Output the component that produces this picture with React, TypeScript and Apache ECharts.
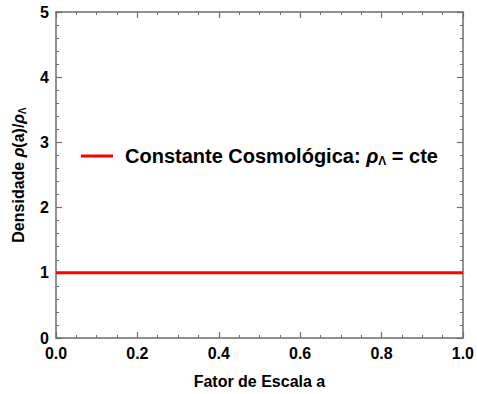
import React, { useEffect, useRef } from "react";
import * as echarts from "echarts";

const xRange = [0, 1];
const yRange = [0, 5];
const seriesName = "Constante Cosmológica: ρΛ = cte";
const lineData: [number, number][] = [
  [0, 1],
  [1, 1],
];

const FONT = "Liberation Sans";
const AX = "#6e6e6e";

export default function App() {
  const ref = useRef<HTMLDivElement>(null);
  useEffect(() => {
    if (!ref.current) return;
    const chart = echarts.init(ref.current, null, { renderer: "svg" });
    const axisCommon = {
      axisLine: { show: true, onZero: false, lineStyle: { color: AX, width: 1.5 } },
      axisTick: { show: true, inside: true, length: 6, lineStyle: { color: AX, width: 1.2 } },
      minorTick: { show: true, length: 3, lineStyle: { color: AX, width: 1 } },
      splitLine: { show: false },
    };
    chart.setOption({
      animation: false,
      backgroundColor: "#fff",
      grid: { left: 56, right: 13, top: 12, bottom: 56 },
      legend: {
        left: 81,
        top: 146,
        padding: 0,
        icon: "rect",
        itemWidth: 32,
        itemHeight: 3,
        data: [seriesName],
        formatter: () => "Constante Cosmológica: {i|ρ}{s|Λ} = cte",
        textStyle: {
          fontFamily: FONT,
          fontWeight: "bold",
          fontSize: 20,
          color: "#000",
          padding: [0, 0, 0, 7],
          rich: {
            i: { fontFamily: FONT, fontStyle: "italic", fontWeight: "bold", fontSize: 20, color: "#000" },
            s: { fontFamily: FONT, fontWeight: "bold", fontSize: 12, color: "#000", verticalAlign: "bottom", padding: [10, 0, 0, 0] },
          },
        },
      },
      xAxis: [
        {
          type: "value",
          min: xRange[0],
          max: xRange[1],
          interval: 0.2,
          position: "bottom",
          ...axisCommon,
          minorTick: { ...axisCommon.minorTick, splitNumber: 4 },
          axisLabel: {
            margin: 7,
            fontFamily: FONT,
            fontWeight: "bold",
            fontSize: 16,
            color: "#000",
            formatter: (v: number) => v.toFixed(1),
          },
          name: "Fator de Escala a",
          nameLocation: "middle",
          nameGap: 35,
          nameTextStyle: { fontFamily: FONT, fontWeight: "bold", fontSize: 16, color: "#000" },
        },
        {
          type: "value",
          min: xRange[0],
          max: xRange[1],
          interval: 0.2,
          position: "top",
          ...axisCommon,
          minorTick: { ...axisCommon.minorTick, splitNumber: 4 },
          axisLabel: { show: false },
        },
      ],
      yAxis: [
        {
          type: "value",
          min: yRange[0],
          max: yRange[1],
          interval: 1,
          position: "left",
          ...axisCommon,
          minorTick: { ...axisCommon.minorTick, splitNumber: 5 },
          axisLabel: {
            margin: 7,
            fontFamily: FONT,
            fontWeight: "bold",
            fontSize: 16,
            color: "#000",
          },
          name: "Densidade {i|ρ}(a)/{i|ρ}{s|Λ}",
          nameLocation: "middle",
          nameGap: 29,
          nameRotate: 90,
          nameTextStyle: {
            fontFamily: FONT,
            fontWeight: "bold",
            fontSize: 16,
            color: "#000",
            rich: {
              i: { fontFamily: FONT, fontStyle: "italic", fontWeight: "bold", fontSize: 16, color: "#000" },
              s: { fontFamily: FONT, fontWeight: "bold", fontSize: 10, color: "#000", verticalAlign: "bottom", padding: [8, 0, 0, 0] },
            },
          },
        },
        {
          type: "value",
          min: yRange[0],
          max: yRange[1],
          interval: 1,
          position: "right",
          ...axisCommon,
          minorTick: { ...axisCommon.minorTick, splitNumber: 5 },
          axisLabel: { show: false },
        },
      ],
      series: [
        {
          name: seriesName,
          type: "line",
          xAxisIndex: 0,
          yAxisIndex: 0,
          data: lineData,
          showSymbol: false,
          symbol: "none",
          lineStyle: { color: "#ff0000", width: 3 },
          itemStyle: { color: "#ff0000" },
        },
      ],
    });
    return () => chart.dispose();
  }, []);
  return <div ref={ref} style={{ position: "fixed", left: 0, top: 0, width: 477, height: 394 }} />;
}
